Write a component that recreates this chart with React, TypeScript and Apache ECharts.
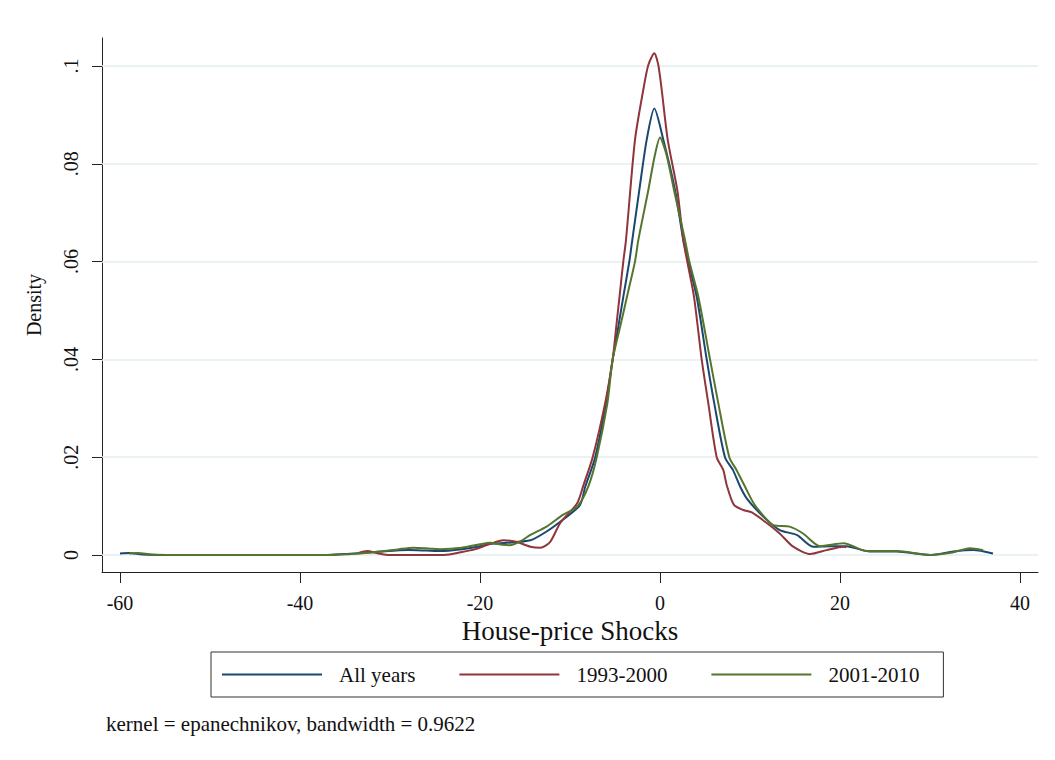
import React, { useEffect, useRef } from "react";
import * as echarts from "echarts";

const xTicks = [-60, -40, -20, 0, 20, 40];
const yTicks = [0, 0.02, 0.04, 0.06, 0.08, 0.1];
const seriesNames = ["All years", "1993-2000", "2001-2010"];
const noteText = "kernel = epanechnikov, bandwidth = 0.9622";

const allYears: [number, number][] = [
  [-60, 0.0003], [-59, 0.0004], [-57.5, 0.0001], [-55, 0], [-45, 0], [-37, 0],
  [-35, 0.0002], [-33, 0.0004], [-31, 0.0007], [-28, 0.001], [-26, 0.0009],
  [-24.4, 0.0008], [-22, 0.0012], [-20, 0.0018], [-18.9, 0.0023], [-17, 0.0025],
  [-14.4, 0.003], [-12.6, 0.0048], [-10.8, 0.0072], [-8.9, 0.0102], [-8.3, 0.014],
  [-7.2, 0.02], [-6, 0.031], [-5.26, 0.04], [-4.63, 0.0467], [-4.08, 0.0528],
  [-3.41, 0.06], [-3.08, 0.0644], [-2.3, 0.0746], [-1.48, 0.0849], [-0.63, 0.0913],
  [0.37, 0.0849], [1.67, 0.0746], [2.59, 0.0644], [3.14, 0.06], [4.08, 0.0528],
  [5.19, 0.04], [6.03, 0.031], [7.22, 0.02], [8.1, 0.0174], [8.9, 0.014],
  [9.63, 0.0116], [11.5, 0.0078], [13.3, 0.0051], [15.2, 0.0041], [17, 0.0017],
  [18.9, 0.0018], [20.7, 0.0018], [23.3, 0.0007], [26.3, 0.0007], [30, 0],
  [32.6, 0.0007], [34.8, 0.001], [37, 0.0003],
];

const y1993: [number, number][] = [
  [-33.5, 0.0004], [-32.5, 0.0008], [-31.5, 0.0004], [-30, 0], [-27, 0], [-24, 0],
  [-22, 0.0006], [-20.5, 0.0012], [-19, 0.0022], [-17.4, 0.003], [-16, 0.0027],
  [-14.4, 0.0017], [-13.3, 0.0015], [-12.2, 0.0027], [-11.1, 0.0065], [-9.2, 0.0106],
  [-8.5, 0.0143], [-7.48, 0.02], [-6.1, 0.031], [-5.26, 0.04], [-4.86, 0.0467],
  [-4.5, 0.0528], [-4.08, 0.06], [-3.78, 0.0644], [-2.78, 0.0849], [-1.86, 0.0951],
  [-1.3, 0.1002], [-0.63, 0.1026], [-0.19, 0.1002], [0.19, 0.0951], [0.86, 0.0849],
  [1.92, 0.0746], [2.59, 0.0644], [3.03, 0.06], [3.78, 0.0528], [4.63, 0.04],
  [5.37, 0.031], [6.3, 0.02], [7.03, 0.0174], [7.41, 0.0143], [8.2, 0.0103],
  [9.26, 0.0092], [10.2, 0.0087], [11.9, 0.0065], [13.3, 0.0044], [14.8, 0.0017],
  [16.7, 0.0002], [18.5, 0.001], [20.4, 0.0017], [20.7, 0.0016],
];

const y2001: [number, number][] = [
  [-59, 0.0003], [-58, 0.0004], [-56.5, 0.0001], [-54, 0], [-45, 0], [-36.7, 0],
  [-33.5, 0.0003], [-31.1, 0.0007], [-29, 0.0012], [-27.4, 0.0015], [-25.5, 0.0013],
  [-24.4, 0.0012], [-22, 0.0015], [-20, 0.0022], [-18.9, 0.0025], [-17.5, 0.0021],
  [-16.7, 0.002], [-15.5, 0.0028], [-14.4, 0.0041], [-12.6, 0.0058], [-10.8, 0.0082],
  [-9.2, 0.0099], [-7.97, 0.014], [-7.03, 0.02], [-5.85, 0.031], [-5.26, 0.04],
  [-4.42, 0.0467], [-3.67, 0.0528], [-2.78, 0.06], [-2.41, 0.0644], [-1.3, 0.0746],
  [-0.6, 0.0815], [0, 0.0854], [0.7, 0.082], [1.56, 0.0746], [2.78, 0.0644],
  [3.26, 0.06], [4.26, 0.0528], [5.56, 0.04], [6.48, 0.031], [7.7, 0.02],
  [8.5, 0.0174], [9.44, 0.014], [10.4, 0.0106], [11.5, 0.008], [12.6, 0.0061],
  [14.4, 0.0058], [15.9, 0.0044], [17.8, 0.0018], [20.4, 0.0024], [23, 0.0008],
  [26.3, 0.0008], [30, 0], [32.5, 0.0005], [34.4, 0.0014], [35.9, 0.001],
];

const colors = ["#1a476f", "#90353b", "#55752f"];
const FONT = '"Liberation Serif", "Times New Roman", serif';

export default function App() {
  const ref = useRef<HTMLDivElement>(null);
  useEffect(() => {
    document.body.style.margin = "0";
    const chart = echarts.init(ref.current!, null, { renderer: "svg" });
    const datasets = [allYears, y1993, y2001];
    chart.setOption({
      animation: false,
      backgroundColor: "#ffffff",
      textStyle: { fontFamily: FONT },
      grid: { left: 102, right: 17, top: 38, bottom: 188, containLabel: false },
      xAxis: {
        type: "value",
        min: -62,
        max: 42,
        axisLine: { onZero: false, lineStyle: { color: "#222", width: 1 } },
        axisTick: { customValues: xTicks, length: 11, lineStyle: { color: "#222" } },
        axisLabel: {
          customValues: xTicks,
          margin: 21,
          fontSize: 20,
          color: "#111",
          fontFamily: FONT,
        },
        splitLine: { show: false },
        name: "House-price Shocks",
        nameLocation: "middle",
        nameGap: 31,
        nameTextStyle: { fontSize: 27, fontFamily: FONT, color: "#111" },
      },
      yAxis: {
        type: "value",
        min: -0.003476,
        max: 0.105726,
        axisLine: { onZero: false, lineStyle: { color: "#222", width: 1 } },
        axisTick: { customValues: yTicks, length: 10, lineStyle: { color: "#222" } },
        axisLabel: {
          customValues: yTicks,
          rotate: 90,
          margin: 21,
          fontSize: 20,
          color: "#111",
          fontFamily: FONT,
          formatter: (v: number) => (v === 0 ? "0" : String(v).replace(/^0/, "")),
        },
        splitLine: { show: false },
        name: "Density",
        nameLocation: "middle",
        nameGap: 58,
        nameTextStyle: { fontSize: 20, fontFamily: FONT, color: "#111" },
      },
      legend: {
        data: seriesNames,
        left: 211,
        top: 652,
        orient: "horizontal",
        icon: "rect",
        itemWidth: 100,
        itemHeight: 2,
        itemGap: 44,
        borderColor: "#333",
        borderWidth: 1,
        padding: [12, 24, 12, 11],
        textStyle: {
          fontSize: 21,
          fontFamily: FONT,
          color: "#111",
          padding: [0, 0, 0, 12],
        },
      },
      graphic: [
        {
          type: "text",
          left: 106,
          top: 713,
          style: { text: noteText, font: `21px ${FONT}`, fill: "#111" },
        },
      ],
      series: [
        {
          type: "line",
          name: "_grid",
          data: [],
          silent: true,
          z: 1,
          markLine: {
            silent: true,
            z: 1,
            symbol: ["none", "none"],
            label: { show: false },
            emphasis: { disabled: true },
            lineStyle: { color: "#e4eef1", width: 1.5, type: "solid" },
            data: yTicks.map((v) => ({ yAxis: v })),
          },
        },
        ...seriesNames.map((name, i) => ({
          type: "line",
          name,
          data: datasets[i],
          showSymbol: false,
          symbol: "none",
          smooth: 0.25,
          z: 3,
          color: colors[i],
          lineStyle: { color: colors[i], width: 2 },
          emphasis: { disabled: true },
        })),
      ],
    });
    return () => chart.dispose();
  }, []);
  return <div ref={ref} style={{ width: 1055, height: 760 }} />;
}
